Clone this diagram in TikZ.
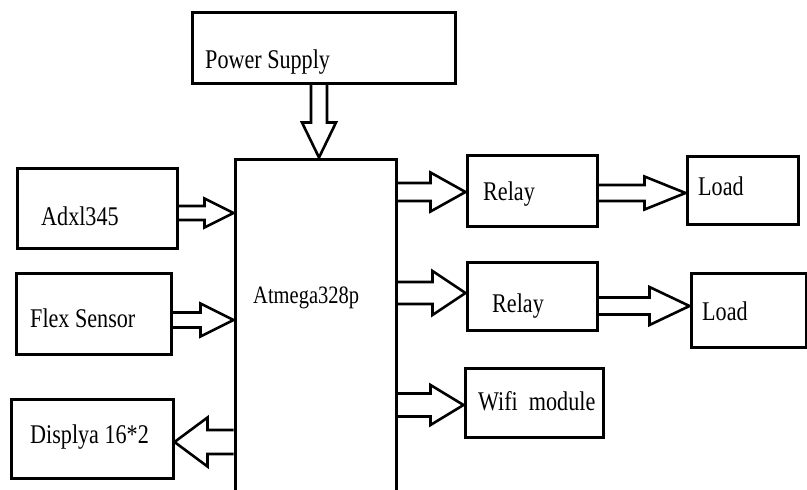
\documentclass[tikz,border=0pt]{standalone}
\usepackage{fontspec}
\setmainfont{Liberation Serif}[FakeStretch=0.82]
\usetikzlibrary{calc}

% hollow block arrow: from, to, shaft half width, head half width, head length
\newcommand\hollowarrow[5]{%
  \path ($(#2)!#5!(#1)$) coordinate (hb);
  \draw[arr] ($(#1)!#3!90:(#2)$) -- ($(hb)!#3!90:(#2)$) -- ($(hb)!#4!90:(#2)$)
    -- (#2) -- ($(hb)!#4!-90:(#2)$) -- ($(hb)!#3!-90:(#2)$) -- ($(#1)!#3!-90:(#2)$);}

\begin{document}
\begin{tikzpicture}[x=1pt,y=-1pt,
  box/.style={draw,line width=3pt,inner sep=0pt},
  lbl/.style={anchor=base west,inner sep=0pt,font=\fontsize{27}{30}\selectfont},
  arr/.style={line width=2.6pt}]
  \useasboundingbox (0,0) rectangle (807,490);
  % blocks
  \node[box,minimum width=263,minimum height=71] (power) at (323.5,47.5) {};
  \node[box,minimum width=161,minimum height=351] (mcu) at (315.5,334.5) {};
  \node[box,minimum width=160,minimum height=80] (adxl) at (97,208) {};
  \node[box,minimum width=155,minimum height=81] (flex) at (93.5,313.5) {};
  \node[box,minimum width=162,minimum height=79] (disp) at (92,438.5) {};
  \node[box,minimum width=130,minimum height=71] (relay1) at (532,190.5) {};
  \node[box,minimum width=130,minimum height=68] (relay2) at (532,296) {};
  \node[box,minimum width=138,minimum height=69] (wifi) at (534,402.5) {};
  \node[box,minimum width=111,minimum height=68] (load1) at (742.5,190) {};
  \node[box,minimum width=115,minimum height=74] (load2) at (748.5,310) {};
  % texts
  \node[lbl] (powertxt) at (205,68) {Power Supply};
  \node[lbl,font=\fontsize{25}{28}\selectfont] (mcutxt) at (253,303) {Atmega328p};
  \node[lbl] (adxltxt) at (41,225) {Adxl345};
  \node[lbl] (flextxt) at (30,327) {Flex Sensor};
  \node[lbl] (disptxt) at (30,443) {Displya 16*2};
  \node[lbl] (relay1txt) at (483,200) {Relay};
  \node[lbl] (relay2txt) at (492,312) {Relay};
  \node[lbl] (wifitxt) at (478,410) {Wifi~ module};
  \node[lbl] (load1txt) at (698,195) {Load};
  \node[lbl] (load2txt) at (702,320) {Load};
  % arrow ends
  \coordinate (p2) at ([xshift=3.5pt]mcu.north);
  \coordinate (p1) at (p2 |- power.south);
  \coordinate (a1) at ([yshift=-5pt]adxl.east);
  \coordinate (a2) at (mcu.west |- a1);
  \coordinate (f1) at ([yshift=-6.5pt]flex.east);
  \coordinate (f2) at (mcu.west |- f1);
  \coordinate (d1) at ([yshift=-3.5pt]disp.east);
  \coordinate (d2) at (mcu.west |- d1);
  \coordinate (r1) at ([yshift=-1.5pt]relay1.west);
  \coordinate (m1) at (mcu.east |- r1);
  \coordinate (r2) at ([yshift=3pt]relay2.west);
  \coordinate (m2) at (mcu.east |- r2);
  \coordinate (w1) at ([yshift=-2.5pt]wifi.west);
  \coordinate (m3) at (mcu.east |- w1);
  \coordinate (r1b) at ([yshift=-2.5pt]relay1.east);
  \coordinate (l1) at (load1.west |- r1b);
  \coordinate (r2b) at ([yshift=-10pt]relay2.east);
  \coordinate (l2) at (load2.west |- r2b);
  % arrows
  \foreach \a/\b/\s/\h/\l in {p1/p2/8pt/17pt/35pt, a1/a2/7pt/14.5pt/29pt,
      f1/f2/7.5pt/16.5pt/33pt, d2/d1/12pt/24.5pt/33pt, m1/r1/9pt/19.5pt/35pt,
      m2/r2/11pt/22pt/33pt, m3/w1/11.5pt/20pt/33pt, r1b/l1/8pt/16.5pt/41pt,
      r2b/l2/8.5pt/19pt/40pt}
    \hollowarrow{\a}{\b}{\s}{\h}{\l};
\end{tikzpicture}
\end{document}
